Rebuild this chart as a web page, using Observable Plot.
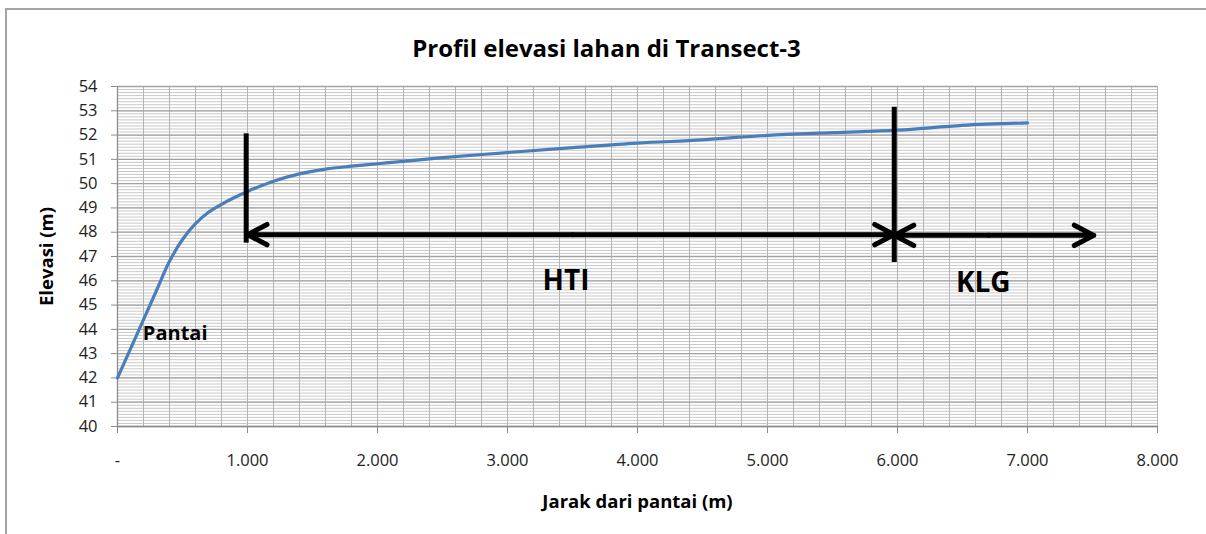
<!DOCTYPE html>
<html><head><meta charset="utf-8">
<script src="https://cdn.jsdelivr.net/npm/d3@7"></script>
<script src="https://cdn.jsdelivr.net/npm/@observablehq/plot@0.6"></script>
<style>
body{margin:0;background:#fff;}
#wrap{position:relative;width:1206px;height:534px;overflow:hidden;background:#fff;}
#border{position:absolute;left:5px;top:8px;width:1400px;height:700px;border-left:2px solid #a3a3a3;border-top:2px solid #a3a3a3;pointer-events:none;}
#wrap svg{position:absolute;left:0;top:0;}
</style></head><body><div id="wrap"><div id="border"></div></div>
<script>
// Data
const jarak   = [0, 100, 200, 300, 400, 500, 600, 700, 800, 900, 1000, 1200, 1400, 1600, 1800, 2000, 2200, 2500, 3000, 3500, 4000, 4500, 5000, 5500, 6000, 6500, 7000];
const elevasi = [42.0, 43.2, 44.4, 45.6, 46.8, 47.7, 48.35, 48.82, 49.15, 49.43, 49.68, 50.1, 50.4, 50.6, 50.72, 50.82, 50.92, 51.07, 51.28, 51.48, 51.67, 51.8, 51.99, 52.1, 52.2, 52.4, 52.5];

const xTickValues = [0, 1000, 2000, 3000, 4000, 5000, 6000, 7000, 8000];
const yTickValues = [40, 41, 42, 43, 44, 45, 46, 47, 48, 49, 50, 51, 52, 53, 54];

// Annotations
const boundaryX      = [990, 5975];
const boundaryTop    = [52.05, 53.15];
const boundaryBottom = [47.55, 46.75];
const arrowStart = [3500, 3500, 6700, 6700];
const arrowEnd   = [1000, 5975, 5975, 7510];
const arrowY     = [47.9, 47.9, 47.87, 47.87];
const zoneLabels = ["HTI", "KLG"];
const zoneLabelX = [3450, 6660];
const zoneLabelY = [46.0, 45.9];
const beachLabel = ["Pantai"];
const beachX = [195];
const beachY = [43.82];

const titleText = "Profil elevasi lahan di Transect-3";
const xLabel = "Jarak dari pantai (m)";
const yLabel = "Elevasi (m)";

const profile = jarak.map((x, i) => ({x, y: elevasi[i]}));
const bounds = boundaryX.map((x, i) => ({x, y1: boundaryBottom[i], y2: boundaryTop[i]}));
const arrows = arrowStart.map((x1, i) => ({x1, x2: arrowEnd[i], y: arrowY[i]}));
const zones = zoneLabels.map((t, i) => ({t, x: zoneLabelX[i], y: zoneLabelY[i]}));
const beach = beachLabel.map((t, i) => ({t, x: beachX[i], y: beachY[i]}));

const minorY = d3.range(40, 54.0001, 0.125);
const minorX = d3.range(0, 8001, 200);
const fmt = d => d === 0 ? "-" : d3.format(",")(d).replace(/,/g, ".");
const FONT = "'Open Sans', sans-serif";

const chart = Plot.plot({
  width: 1206,
  height: 534,
  marginLeft: 117,
  marginRight: 49,
  marginTop: 86,
  marginBottom: 108,
  style: {fontFamily: FONT, background: "transparent", overflow: "visible"},
  x: {domain: [0, 8000]},
  y: {domain: [40, 54]},
  marks: [
    Plot.ruleY(minorY, {stroke: "#c9c9c9", strokeWidth: 1}),
    Plot.ruleX(minorX, {stroke: "#b4b4b4", strokeWidth: 1}),
    Plot.ruleY(yTickValues, {stroke: "#a2a2a2", strokeWidth: 1.3}),
    Plot.ruleX([0], {stroke: "#8c8c8c", strokeWidth: 1.3}),
    Plot.ruleY([40], {stroke: "#8c8c8c", strokeWidth: 1.3}),
    Plot.axisY({ticks: yTickValues, tickSize: 6, tickPadding: 14, fontSize: 16.5, stroke: "#8c8c8c", fill: "#222", label: null}),
    Plot.axisX({ticks: xTickValues, tickSize: 7, tickPadding: 21, fontSize: 16.5, tickFormat: fmt, stroke: "#8c8c8c", fill: "#222", label: null}),
    Plot.line(profile, {x: "x", y: "y", curve: "catmull-rom", stroke: "#4a7ebb", strokeWidth: 3.2}),
    Plot.ruleX(bounds, {x: "x", y1: "y1", y2: "y2", stroke: "#000", strokeWidth: 5}),
    Plot.arrow(arrows, {x1: "x1", x2: "x2", y1: "y", y2: "y", stroke: "#000", strokeWidth: 5, headLength: 6.6, headAngle: 55}),
    Plot.text(zones, {x: "x", y: "y", text: "t", fontSize: 28, fontWeight: "bold", fill: "#000"}),
    Plot.text(beach, {x: "x", y: "y", text: "t", fontSize: 20, fontWeight: "bold", fill: "#000", textAnchor: "start"}),
    Plot.text([titleText], {frameAnchor: "top", dx: -31, dy: -47, text: d => d, fontSize: 24, fontWeight: "bold", fill: "#000"}),
    Plot.text([xLabel], {frameAnchor: "bottom", dy: 81, text: d => d, fontSize: 18.5, fontWeight: "bold", fill: "#000"}),
    Plot.text([yLabel], {x: [-538], y: [47], text: () => yLabel, rotate: -90, fontSize: 18.5, fontWeight: "bold", fill: "#000", clip: false})
  ]
});
document.getElementById("wrap").appendChild(chart);
</script>
</body></html>
